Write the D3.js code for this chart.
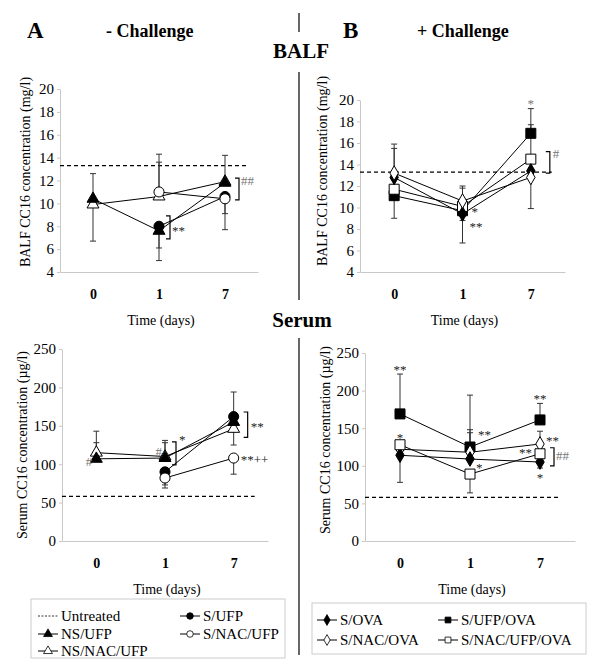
<!DOCTYPE html>
<html>
<head>
<meta charset="utf-8">
<script src="https://cdn.jsdelivr.net/npm/d3@7"></script>
<style>
  body { margin: 0; background: #fff; }
</style>
</head>
<body>
<div id="chart"></div>
<script>
// ---- data ----
var days = ["0", "1", "7"];
var untreatedBalf = 13.3;
var untreatedSerum = 58;

// panel A, BALF (mg/l)
var nsUfpBalf = [10.4, 7.6, 11.8];
var nsNacUfpBalf = [9.9, 10.6, 11.9];
var sUfpBalf = [null, 8.0, 10.6];
var sNacUfpBalf = [null, 11.0, 10.4];
var nsUfpBalfUp = [2.2, null, null], nsUfpBalfDn = [null, 2.6, null];
var nsNacUfpBalfUp = [null, 3.0, 2.3], nsNacUfpBalfDn = [3.2, null, null];
var sUfpBalfUp = [null, null, null], sUfpBalfDn = [null, 1.9, 1.5];
var sNacUfpBalfUp = [null, 3.3, null], sNacUfpBalfDn = [null, null, 2.7];

// panel A, serum (ug/l)
var nsUfpSerum = [107, 108, 155];
var nsNacUfpSerum = [115, 110, 146];
var sUfpSerum = [null, 90, 162];
var sNacUfpSerum = [null, 82, 108];
var nsUfpSerumUp = [21, 20, null], nsUfpSerumDn = [null, null, null];
var nsNacUfpSerumUp = [28, 21, null], nsNacUfpSerumDn = [null, null, 21];
var sUfpSerumUp = [null, null, 32], sUfpSerumDn = [null, 17, null];
var sNacUfpSerumUp = [null, null, null], sNacUfpSerumDn = [null, 13, 21];

// panel B, BALF (mg/l)
var sOvaBalf = [12.8, 9.4, 13.4];
var sNacOvaBalf = [13.2, 10.6, 12.8];
var sUfpOvaBalf = [11.1, 9.7, 16.9];
var sNacUfpOvaBalf = [11.7, 10.1, 14.5];
var sOvaBalfUp = [null, null, null], sOvaBalfDn = [null, 2.7, null];
var sNacOvaBalfUp = [2.7, 1.4, null], sNacOvaBalfDn = [null, null, 2.9];
var sUfpOvaBalfUp = [null, null, 2.3], sUfpOvaBalfDn = [2.1, 0.9, null];
var sNacUfpOvaBalfUp = [3.8, 1.7, 3.2], sNacUfpOvaBalfDn = [null, null, null];

// panel B, serum (ug/l)
var sOvaSerum = [114, 109, 105];
var sNacOvaSerum = [122, 118, 129];
var sUfpOvaSerum = [169, 125, 161];
var sNacUfpOvaSerum = [128, 89, 116];
var sOvaSerumUp = [null, 35, null], sOvaSerumDn = [36, null, 8];
var sNacOvaSerumUp = [null, 30, 17], sNacOvaSerumDn = [null, null, null];
var sUfpOvaSerumUp = [53, 69, 22], sUfpOvaSerumDn = [null, null, null];
var sNacUfpOvaSerumUp = [null, null, null], sNacUfpOvaSerumDn = [null, 25, null];

var balfTicks = [4, 6, 8, 10, 12, 14, 16, 18, 20];
var serumTicks = [0, 50, 100, 150, 200, 250];

// ---- drawing ----
var FONT = "Liberation Serif";
var svg = d3.select("#chart").append("svg")
  .attr("width", 600).attr("height", 670)
  .attr("font-family", FONT);

var symbolTypes = { tri: d3.symbolTriangle, circ: d3.symbolCircle, sq: d3.symbolSquare, dia: d3.symbolDiamond };

function marker(kind) {
  var size = { tri: 62, circ: 80, sq: 100, dia: 62 }[kind];
  return d3.symbol().type(symbolTypes[kind]).size(size)();
}

function panel(cfg) {
  var x = d3.scalePoint().domain(days).range(cfg.xr).padding(0.5);
  var y = d3.scaleLinear().domain(cfg.dom).range(cfg.yr);
  var g = svg.append("g");

  g.append("g")
    .attr("transform", "translate(" + cfg.xr[0] + ",0)")
    .call(d3.axisLeft(y).tickValues(cfg.ticks).tickSizeInner(3).tickSizeOuter(0).tickPadding(3))
    .attr("font-family", FONT)
    .call(function (a) {
      a.selectAll("path,line").attr("stroke", "#c8c8c8");
      a.selectAll("text").style("font-size", "15px").attr("fill", "#000");
    });

  g.append("g")
    .attr("transform", "translate(0," + cfg.yr[0] + ")")
    .call(d3.axisBottom(x).tickSize(0).tickPadding(17))
    .attr("font-family", FONT)
    .call(function (a) {
      a.selectAll("path").attr("stroke", "#c8c8c8");
      a.selectAll("text").style("font-size", "14px").style("font-weight", "bold").attr("fill", "#000");
    });

  g.append("text")
    .attr("transform", "translate(" + cfg.ytx + "," + cfg.yty + ") rotate(-90)")
    .attr("text-anchor", "middle").attr("dominant-baseline", "central")
    .style("font-size", "14px").text(cfg.ytitle);

  g.append("text")
    .attr("x", (cfg.xr[0] + cfg.xr[1]) / 2 + 2).attr("y", cfg.yr[0] + 53)
    .attr("text-anchor", "middle").style("font-size", "14px").text("Time (days)");

  g.append("line")
    .attr("x1", cfg.xr[0]).attr("x2", x("7") + 21)
    .attr("y1", y(cfg.untreated)).attr("y2", y(cfg.untreated))
    .attr("stroke", "#000").attr("stroke-width", 1.2).attr("stroke-dasharray", "4,3");

  cfg.series.forEach(function (s) {
    var pts = days.map(function (d, i) { return { d: d, v: s.vals[i], up: s.up[i], dn: s.dn[i] }; })
      .filter(function (p) { return p.v !== null; });
    pts.forEach(function (p) {
      [["up", 1], ["dn", -1]].forEach(function (e) {
        if (p[e[0]] === null) return;
        var end = p.v + e[1] * p[e[0]];
        g.append("line").attr("x1", x(p.d)).attr("x2", x(p.d))
          .attr("y1", y(p.v)).attr("y2", y(end)).attr("stroke", "#333");
        g.append("line").attr("x1", x(p.d) - 3).attr("x2", x(p.d) + 3)
          .attr("y1", y(end)).attr("y2", y(end)).attr("stroke", "#333");
      });
    });
  });

  cfg.series.forEach(function (s) {
    var pts = days.map(function (d, i) { return { d: d, v: s.vals[i] }; })
      .filter(function (p) { return p.v !== null; });
    g.append("path").datum(pts)
      .attr("fill", "none").attr("stroke", "#000").attr("stroke-width", 1)
      .attr("d", d3.line().x(function (p) { return x(p.d); }).y(function (p) { return y(p.v); }));
  });

  cfg.series.forEach(function (s) {
    var pts = days.map(function (d, i) { return { d: d, v: s.vals[i] }; })
      .filter(function (p) { return p.v !== null; });
    g.selectAll(null).data(pts).enter().append("path")
      .attr("transform", function (p) { return "translate(" + x(p.d) + "," + y(p.v) + ")"; })
      .attr("d", marker(s.shape))
      .attr("fill", s.filled ? "#000" : "#fff").attr("stroke", "#000").attr("stroke-width", 1);
  });

  cfg.brackets.forEach(function (b) {
    var bx = x(b.day) + b.dx;
    g.append("path")
      .attr("d", "M" + bx + "," + y(b.hi) + "h4V" + y(b.lo) + "h-4")
      .attr("fill", "none").attr("stroke", "#000").attr("stroke-width", 1.2);
  });

  cfg.notes.forEach(function (n) {
    g.append("text").attr("x", x(n.day) + n.dx).attr("y", y(n.v))
      .attr("text-anchor", n.anchor || "start").attr("dominant-baseline", "central")
      .attr("fill", n.gray ? "#777" : "#222").style("font-size", "13px").text(n.t);
  });
}

panel({
  xr: [60, 258], yr: [272, 89], dom: [4, 20], ticks: balfTicks,
  ytitle: "BALF CC16 concentration (mg/l)", ytx: 25, yty: 172, untreated: untreatedBalf,
  series: [
    { vals: nsNacUfpBalf, up: nsNacUfpBalfUp, dn: nsNacUfpBalfDn, shape: "tri", filled: false },
    { vals: nsUfpBalf, up: nsUfpBalfUp, dn: nsUfpBalfDn, shape: "tri", filled: true },
    { vals: sUfpBalf, up: sUfpBalfUp, dn: sUfpBalfDn, shape: "circ", filled: true },
    { vals: sNacUfpBalf, up: sNacUfpBalfUp, dn: sNacUfpBalfDn, shape: "circ", filled: false }
  ],
  brackets: [{ day: "1", lo: 6.9, hi: 8.9, dx: 7 }, { day: "7", lo: 10.3, hi: 12.2, dx: 10 }],
  notes: [
    { day: "1", v: 7.6, dx: 13, t: "**" },
    { day: "7", v: 12.0, dx: 16, t: "##", gray: true }
  ]
});

panel({
  xr: [62, 268], yr: [541, 349], dom: [0, 250], ticks: serumTicks,
  ytitle: "Serum CC16 concentration (\u00b5g/l)", ytx: 22, yty: 445, untreated: untreatedSerum,
  series: [
    { vals: nsNacUfpSerum, up: nsNacUfpSerumUp, dn: nsNacUfpSerumDn, shape: "tri", filled: false },
    { vals: nsUfpSerum, up: nsUfpSerumUp, dn: nsUfpSerumDn, shape: "tri", filled: true },
    { vals: sUfpSerum, up: sUfpSerumUp, dn: sUfpSerumDn, shape: "circ", filled: true },
    { vals: sNacUfpSerum, up: sNacUfpSerumUp, dn: sNacUfpSerumDn, shape: "circ", filled: false }
  ],
  brackets: [{ day: "1", lo: 99, hi: 129, dx: 7 }, { day: "7", lo: 135, hi: 168, dx: 10 }],
  notes: [
    { day: "0", v: 104, dx: -4, t: "#", anchor: "end", gray: true },
    { day: "1", v: 116, dx: -3, t: "#", anchor: "end", gray: true },
    { day: "1", v: 132, dx: 14, t: "*" },
    { day: "7", v: 149, dx: 17, t: "**" },
    { day: "7", v: 106, dx: 7, t: "**++" }
  ]
});

panel({
  xr: [360, 565], yr: [272, 100], dom: [4, 20], ticks: balfTicks,
  ytitle: "BALF CC16 concentration (mg/l)", ytx: 322, yty: 171, untreated: untreatedBalf,
  series: [
    { vals: sUfpOvaBalf, up: sUfpOvaBalfUp, dn: sUfpOvaBalfDn, shape: "sq", filled: true },
    { vals: sNacUfpOvaBalf, up: sNacUfpOvaBalfUp, dn: sNacUfpOvaBalfDn, shape: "sq", filled: false },
    { vals: sOvaBalf, up: sOvaBalfUp, dn: sOvaBalfDn, shape: "dia", filled: true },
    { vals: sNacOvaBalf, up: sNacOvaBalfUp, dn: sNacOvaBalfDn, shape: "dia", filled: false }
  ],
  brackets: [{ day: "7", lo: 13.2, hi: 15.2, dx: 15 }],
  notes: [
    { day: "7", v: 19.7, dx: 0, t: "*", anchor: "middle", gray: true },
    { day: "1", v: 9.6, dx: 9, t: "*" },
    { day: "1", v: 8.2, dx: 7, t: "**" },
    { day: "7", v: 15.0, dx: 22, t: "#", gray: true }
  ]
});

panel({
  xr: [365, 575], yr: [541, 353], dom: [0, 250], ticks: serumTicks,
  ytitle: "Serum CC16 concentration (\u00b5g/l)", ytx: 325, yty: 440, untreated: untreatedSerum,
  series: [
    { vals: sUfpOvaSerum, up: sUfpOvaSerumUp, dn: sUfpOvaSerumDn, shape: "sq", filled: true },
    { vals: sNacOvaSerum, up: sNacOvaSerumUp, dn: sNacOvaSerumDn, shape: "dia", filled: false },
    { vals: sOvaSerum, up: sOvaSerumUp, dn: sOvaSerumDn, shape: "dia", filled: true },
    { vals: sNacUfpOvaSerum, up: sNacUfpOvaSerumUp, dn: sNacUfpOvaSerumDn, shape: "sq", filled: false }
  ],
  brackets: [{ day: "7", lo: 100, hi: 124, dx: 10 }],
  notes: [
    { day: "0", v: 228, dx: 0, t: "**", anchor: "middle" },
    { day: "0", v: 137, dx: 0, t: "*", anchor: "middle" },
    { day: "1", v: 141, dx: 8, t: "**" },
    { day: "1", v: 98, dx: 6, t: "*" },
    { day: "7", v: 190, dx: 0, t: "**", anchor: "middle" },
    { day: "7", v: 134, dx: 6, t: "**" },
    { day: "7", v: 118, dx: -8, t: "**", anchor: "end" },
    { day: "7", v: 84, dx: 0, t: "*", anchor: "middle" },
    { day: "7", v: 114, dx: 16, t: "##", gray: true }
  ]
});

// titles and divider
svg.append("text").attr("x", 27).attr("y", 38).style("font-size", "23px").style("font-weight", "bold").text("A");
svg.append("text").attr("x", 106).attr("y", 37).style("font-size", "18px").style("font-weight", "bold").text("- Challenge");
svg.append("text").attr("x", 343).attr("y", 38).style("font-size", "23px").style("font-weight", "bold").text("B");
svg.append("text").attr("x", 417).attr("y", 37).style("font-size", "18px").style("font-weight", "bold").text("+ Challenge");
svg.append("text").attr("x", 301).attr("y", 58).attr("text-anchor", "middle").style("font-size", "21px").style("font-weight", "bold").text("BALF");
svg.append("text").attr("x", 302).attr("y", 327).attr("text-anchor", "middle").style("font-size", "21px").style("font-weight", "bold").text("Serum");
[[13, 32], [72, 300], [338, 655]].forEach(function (s) {
  svg.append("line").attr("x1", 299).attr("x2", 299).attr("y1", s[0]).attr("y2", s[1])
    .attr("stroke", "#000").attr("stroke-width", 1.2);
});

// legends
var legendLeft = [
  { name: "Untreated", shape: null, col: 0, row: 0 },
  { name: "NS/UFP", shape: "tri", filled: true, col: 0, row: 1 },
  { name: "NS/NAC/UFP", shape: "tri", filled: false, col: 0, row: 2 },
  { name: "S/UFP", shape: "circ", filled: true, col: 1, row: 0 },
  { name: "S/NAC/UFP", shape: "circ", filled: false, col: 1, row: 1 }
];
var legendRight = [
  { name: "S/OVA", shape: "dia", filled: true, col: 0, row: 0 },
  { name: "S/UFP/OVA", shape: "sq", filled: true, col: 1, row: 0 },
  { name: "S/NAC/OVA", shape: "dia", filled: false, col: 0, row: 1 },
  { name: "S/NAC/UFP/OVA", shape: "sq", filled: false, col: 1, row: 1 }
];

function legend(items, box, cols, rows) {
  svg.append("rect").attr("x", box[0]).attr("y", box[1]).attr("width", box[2]).attr("height", box[3])
    .attr("fill", "#fff").attr("stroke", "#ccc");
  items.forEach(function (it) {
    var lx = cols[it.col], ly = rows[it.row];
    var l = svg.append("line").attr("x1", lx).attr("x2", lx + 20).attr("y1", ly).attr("y2", ly)
      .attr("stroke", "#000");
    if (!it.shape) l.attr("stroke-dasharray", "2,1.5").attr("stroke-width", 0.8);
    else svg.append("path").attr("transform", "translate(" + (lx + 10) + "," + ly + ")")
      .attr("d", d3.symbol().type(symbolTypes[it.shape]).size(34)())
      .attr("fill", it.filled ? "#000" : "#fff").attr("stroke", "#000").attr("stroke-width", 0.8);
    svg.append("text").attr("x", lx + 23).attr("y", ly).attr("dominant-baseline", "central")
      .style("font-size", "15px").text(it.name);
  });
}
legend(legendLeft, [31, 599, 254, 59], [38, 180], [616, 634, 651]);
legend(legendRight, [312, 603, 274, 51], [317, 438], [620, 640]);
</script>
</body>
</html>
